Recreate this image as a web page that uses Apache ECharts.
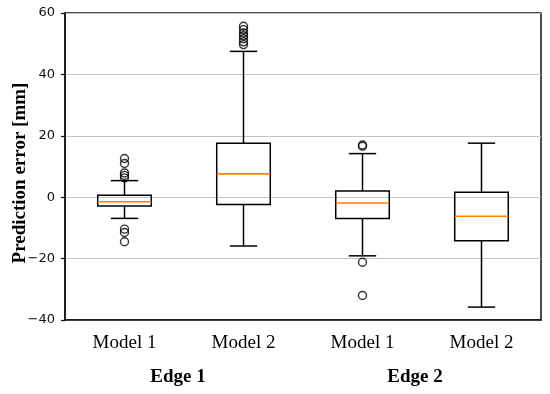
<!DOCTYPE html>
<html>
<head>
<meta charset="utf-8">
<script src="https://cdn.jsdelivr.net/npm/echarts@6/dist/echarts.min.js"></script>
<style>html,body{margin:0;padding:0;background:#fff}#c{width:550px;height:394px}</style>
</head>
<body>
<div id="c"></div>
<script>
// Data
const categories = ['Model 1', 'Model 2', 'Model 1', 'Model 2'];
const groupLabels = ['Edge 1', 'Edge 2'];
const yAxisTitle = 'Prediction error [mm]';
const yTicks = [-40, -20, 0, 20, 40, 60];
// [lowerWhisker, Q1, median, Q3, upperWhisker]
const edge1Model1 = [-6.9, -2.9, -1.5, 0.6, 5.4];
const edge1Model2 = [-15.9, -2.4, 7.6, 17.6, 47.5];
const edge2Model1 = [-19.1, -6.9, -1.9, 2.0, 14.2];
const edge2Model2 = [-35.8, -14.2, -6.2, 1.6, 17.6];
const outliers1 = [12.6, 11.0, 7.9, 7.1, 6.3, -10.4, -11.5, -14.5];
const outliers2 = [55.7, 54.6, 53.5, 52.6, 51.6, 50.6, 49.7];
const outliers3 = [17.0, 16.6, -21.2, -32.0];
const outliers4 = [];

const boxes = [edge1Model1, edge1Model2, edge2Model1, edge2Model2];
const outlierSets = [outliers1, outliers2, outliers3, outliers4];

const boxData = boxes.map((b, i) => [i].concat(b));
const outlierData = [];
outlierSets.forEach((s, i) => s.forEach(v => outlierData.push([i, v])));

const chart = echarts.init(document.getElementById('c'));

function renderBox(params, api) {
  const x = api.value(0);
  const lo = api.coord([x, api.value(1)]);
  const q1 = api.coord([x, api.value(2)]);
  const med = api.coord([x, api.value(3)]);
  const q3 = api.coord([x, api.value(4)]);
  const hi = api.coord([x, api.value(5)]);
  const band = api.size([1, 0])[0];
  const hw = band * 0.225;
  const cw = band * 0.115;
  const cx = q1[0];
  const black = {stroke: '#000', lineWidth: 1.5, fill: null};
  return {
    type: 'group',
    children: [
      {type: 'line', shape: {x1: cx, y1: q3[1], x2: cx, y2: hi[1]}, style: black},
      {type: 'line', shape: {x1: cx, y1: q1[1], x2: cx, y2: lo[1]}, style: black},
      {type: 'line', shape: {x1: cx - cw, y1: hi[1], x2: cx + cw, y2: hi[1]}, style: black},
      {type: 'line', shape: {x1: cx - cw, y1: lo[1], x2: cx + cw, y2: lo[1]}, style: black},
      {type: 'rect', shape: {x: cx - hw, y: q3[1], width: 2 * hw, height: q1[1] - q3[1]}, style: {stroke: '#000', lineWidth: 1.5, fill: 'rgba(0,0,0,0)'}},
      {type: 'line', shape: {x1: cx - hw, y1: med[1], x2: cx + hw, y2: med[1]}, style: {stroke: '#ff7f0e', lineWidth: 1.6}}
    ]
  };
}

chart.setOption({
  animation: false,
  grid: {left: 65, right: 9, top: 13, bottom: 74, containLabel: false, outerBoundsMode: 'none',
    show: true, borderColor: '#111', borderWidth: 1.5, backgroundColor: 'transparent'},
  xAxis: {
    type: 'category',
    data: categories,
    boundaryGap: true,
    axisLine: {onZero: false, lineStyle: {color: '#111', width: 1.5}},
    axisTick: {alignWithLabel: true, length: 4, lineStyle: {color: '#111', width: 1.3}},
    axisLabel: {fontFamily: 'Liberation Serif', fontSize: 19, color: '#000', margin: 14}
  },
  yAxis: {
    type: 'value',
    min: yTicks[0], max: yTicks[yTicks.length - 1], interval: 20,
    axisLine: {show: true, onZero: false, lineStyle: {color: '#111', width: 1.5}},
    axisTick: {show: true, length: 4, lineStyle: {color: '#111', width: 1.3}},
    axisLabel: {fontFamily: 'DejaVu Sans', fontSize: 13, color: '#111', margin: 10,
      formatter: v => (v < 0 ? '\u2212' + Math.abs(v) : String(v))},
    splitLine: {show: true, lineStyle: {color: '#c4c4c4', width: 1.2}}
  },
  graphic: [
    {type: 'text', x: 20, y: 173, rotation: Math.PI / 2,
      style: {text: yAxisTitle, font: 'bold 19px "Liberation Serif"', fill: '#000', textAlign: 'center', textVerticalAlign: 'middle'}},
    {type: 'text', x: 178, y: 377, style: {text: groupLabels[0], font: 'bold 19px "Liberation Serif"', fill: '#000', textAlign: 'center', textVerticalAlign: 'middle'}},
    {type: 'text', x: 415, y: 377, style: {text: groupLabels[1], font: 'bold 19px "Liberation Serif"', fill: '#000', textAlign: 'center', textVerticalAlign: 'middle'}}
  ],
  series: [
    {type: 'custom', renderItem: renderBox, data: boxData, encode: {x: 0, y: [1, 2, 3, 4, 5]}, z: 3},
    {type: 'scatter', data: outlierData, symbol: 'circle', symbolSize: 8,
      itemStyle: {color: 'rgba(0,0,0,0)', borderColor: '#000', borderWidth: 1.4}, z: 4}
  ]
});
</script>
</body>
</html>
